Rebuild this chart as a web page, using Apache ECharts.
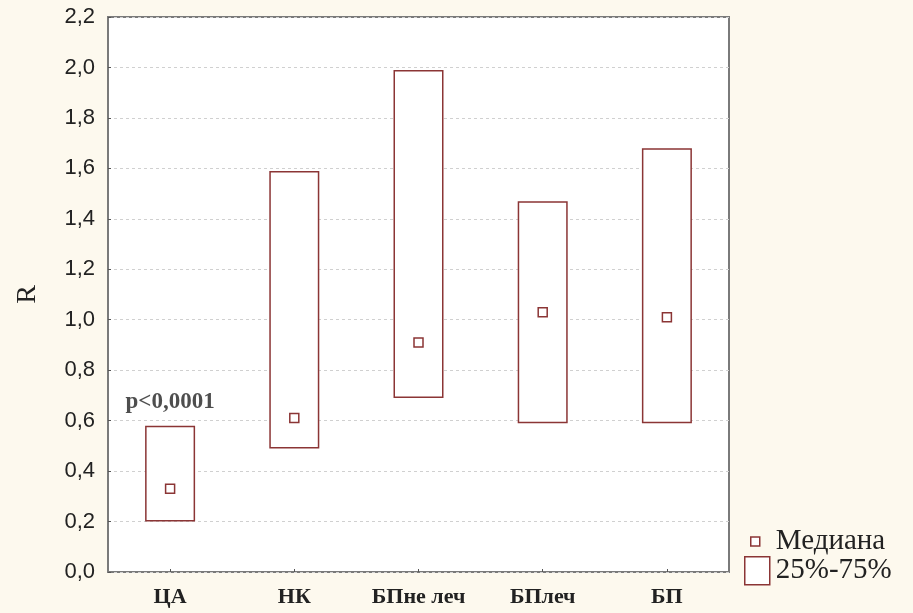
<!DOCTYPE html>
<html>
<head>
<meta charset="utf-8">
<script src="https://cdn.jsdelivr.net/npm/echarts@6/dist/echarts.min.js"></script>
<style>
html,body{margin:0;padding:0;background:#fdf9ee;}
#c{width:913px;height:613px;}
</style>
</head>
<body>
<div id="c"></div>
<script>
const categories = ['ЦА', 'НК', 'БПне леч', 'БПлеч', 'БП'];
const q1 = [0.20, 0.49, 0.69, 0.59, 0.59];
const q3 = [0.58, 1.59, 1.99, 1.47, 1.68];
const median = [0.33, 0.61, 0.91, 1.03, 1.01];
const yTicks = [0, 0.2, 0.4, 0.6, 0.8, 1.0, 1.2, 1.4, 1.6, 1.8, 2.0, 2.2];
const annotation = 'p<0,0001';

const boxColor = '#8b3535';
const chart = echarts.init(document.getElementById('c'));
chart.setOption({
  backgroundColor: '#fdf9ee',
  animation: false,
  grid: {left: 108, top: 17, width: 621, height: 555, show: true, containLabel: false, outerBoundsMode: 'none',
    backgroundColor: '#ffffff', borderColor: '#7a7a7a', borderWidth: 2},
  xAxis: {
    type: 'category', data: categories,
    axisLine: {show: false},
    axisTick: {show: true, alignWithLabel: true, inside: true, length: 3, lineStyle: {color: '#555'}},
    axisLabel: {interval: 0, hideOverlap: false, fontFamily: 'Liberation Serif', fontSize: 22, fontWeight: 'bold', color: '#222', margin: 14}
  },
  yAxis: {
    type: 'value', min: yTicks[0], max: yTicks[yTicks.length - 1], interval: 0.2,
    name: 'R', nameLocation: 'middle', nameGap: 66, nameRotate: 90, nameMoveOverlap: false,
    nameTextStyle: {fontFamily: 'Liberation Serif', fontSize: 28, color: '#222'},
    axisLine: {show: false},
    axisTick: {show: true, inside: true, length: 3, lineStyle: {color: '#555'}},
    axisLabel: {fontFamily: 'Liberation Sans', fontSize: 22, color: '#222', margin: 13,
      formatter: v => v.toFixed(1).replace('.', ',')},
    splitLine: {show: true, lineStyle: {color: '#d0d0d0', type: [3, 3], width: 1}}
  },
  legend: [{
    left: 745, top: 522, orient: 'vertical', itemWidth: 9, itemHeight: 9,
    selectedMode: false,
    textStyle: {fontFamily: 'Liberation Serif', fontSize: 29, color: '#222', padding: [0, 0, 0, 11]},
    data: [{name: 'Медиана', icon: 'rect', itemStyle: {color: '#fff', borderColor: boxColor, borderWidth: 1.5}}]
  }, {
    left: 739, top: 551, orient: 'vertical', itemWidth: 25, itemHeight: 28,
    selectedMode: false,
    textStyle: {fontFamily: 'Liberation Serif', fontSize: 29, color: '#222', padding: [0, 0, 0, 1]},
    data: [{name: '25%-75%', icon: 'rect', itemStyle: {color: '#fff', borderColor: boxColor, borderWidth: 1.5}}]
  }],
  series: [{
    type: 'bar', stack: 'box', barWidth: 50, silent: true,
    itemStyle: {color: 'rgba(0,0,0,0)'},
    data: q1
  }, {
    name: '25%-75%', type: 'bar', stack: 'box', barWidth: 50, silent: true,
    itemStyle: {color: '#fff', borderColor: boxColor, borderWidth: 1.5},
    data: q3.map((v, i) => +(v - q1[i]).toFixed(3))
  }, {
    name: 'Медиана', type: 'scatter', symbol: 'rect', symbolSize: 9, silent: true,
    itemStyle: {color: '#fff', borderColor: boxColor, borderWidth: 1.5, opacity: 1},
    data: median,
    z: 5
  }, {
    type: 'scatter', symbolSize: 0, silent: true,
    data: [[0, q3[0]]],
    label: {show: true, formatter: annotation, position: 'top', distance: 12,
      fontFamily: 'Liberation Serif', fontWeight: 'bold', fontSize: 23, color: '#222'}
  }]
});
</script>
</body>
</html>
